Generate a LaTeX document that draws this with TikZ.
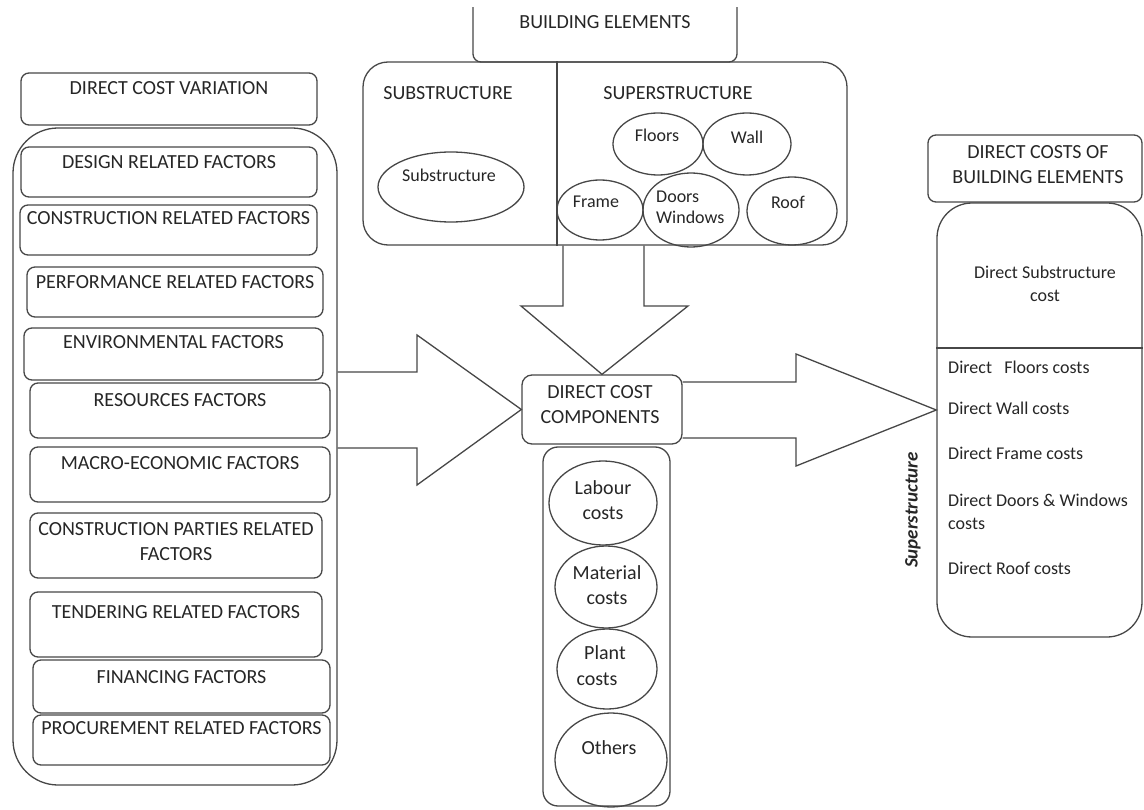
\documentclass[tikz,border=0pt]{standalone}
\usepackage{fontspec}
\setmainfont{Carlito}
\usetikzlibrary{shapes.geometric}
\definecolor{lc}{gray}{0.28}
\definecolor{tc}{gray}{0.15}
\tikzset{
  box/.style={draw=lc, line width=1.3pt, rounded corners=8pt, inner sep=0pt},
  ell/.style={draw=lc, line width=1.3pt, ellipse, inner sep=0pt},
  txt/.style={text=tc, font=\fontsize{20}{25}\selectfont, inner sep=0pt, align=center},
  stxt/.style={text=tc, font=\fontsize{18}{23}\selectfont, inner sep=0pt, align=center},
  etxt/.style={text=tc, font=\fontsize{18}{21}\selectfont, inner sep=0pt, align=center},
  ctxt/.style={text=tc, font=\fontsize{20}{25}\selectfont, inner sep=0pt, align=center},
  barrow/.style={draw=lc, line width=1.3pt, line join=miter},
  sline/.style={draw=lc, line width=1.3pt},
}
\begin{document}
\begin{tikzpicture}[x=1pt,y=-1pt]
\useasboundingbox (0,0) rectangle (1144,810);

% ---------- left column ----------
\node[box, minimum width=296pt, minimum height=52pt] (dhead) at (169,99) {};
\node[txt] (dhead-t) at (169,88) {DIRECT COST VARIATION};

\node[box, rounded corners=45pt, minimum width=324pt, minimum height=657pt] (lcont) at (175,456.5) {};

\node[box, minimum width=296pt, minimum height=50pt] (f1) at (169,172) {};
\node[txt] (f1-t) at (169,162) {DESIGN RELATED FACTORS};
\node[box, minimum width=297pt, minimum height=50pt] (f2) at (168.5,230) {};
\node[txt] (f2-t) at (168.5,218) {CONSTRUCTION RELATED FACTORS};
\node[box, minimum width=296pt, minimum height=50pt] (f3) at (175,292) {};
\node[txt] (f3-t) at (175,282) {PERFORMANCE RELATED FACTORS};
\node[box, minimum width=299pt, minimum height=52pt] (f4) at (173.5,354) {};
\node[txt] (f4-t) at (173.5,342) {ENVIRONMENTAL FACTORS};
\node[box, minimum width=300pt, minimum height=55pt] (f5) at (180,410.5) {};
\node[txt] (f5-t) at (180,400) {RESOURCES FACTORS};
\node[box, minimum width=300pt, minimum height=55pt] (f6) at (180,474.5) {};
\node[txt] (f6-t) at (180,463) {MACRO-ECONOMIC FACTORS};
\node[box, minimum width=292pt, minimum height=65pt] (f7) at (176,545.5) {};
\node[txt] (f7-t) at (176,541.5) {CONSTRUCTION PARTIES RELATED\\FACTORS};
\node[box, minimum width=292pt, minimum height=65pt] (f8) at (176,624.5) {};
\node[txt] (f8-t) at (176,612) {TENDERING RELATED FACTORS};
\node[box, minimum width=297pt, minimum height=53pt] (f9) at (181.5,686.5) {};
\node[txt] (f9-t) at (181.5,677) {FINANCING FACTORS};
\node[box, minimum width=297pt, minimum height=50pt] (f10) at (181.5,740) {};
\node[txt] (f10-t) at (181.5,728) {PROCUREMENT RELATED FACTORS};

% ---------- building elements ----------
\begin{scope}
  \clip (0,8) rectangle (1144,810);
  \node[box, minimum width=264pt, minimum height=72pt] (bhead) at (605,26) {};
\end{scope}
\node[txt] (bhead-t) at (605,22) {BUILDING ELEMENTS};

\node[box, rounded corners=25pt, minimum width=484pt, minimum height=183pt] (bbox) at (605,153.5) {};
\draw[sline] (bbox.north -| 557,0) -- (bbox.south -| 557,0);
\node[txt] (sub-t) at (448,93) {SUBSTRUCTURE};
\node[txt] (sup-t) at (678,93) {SUPERSTRUCTURE};

\node[ell, minimum width=146pt, minimum height=70pt] (esub) at (451,187) {};
\node[etxt] (esub-t) at (449,175) {Substructure};
\node[ell, minimum width=90pt, minimum height=62pt] (efloors) at (658,144) {};
\node[etxt] (efloors-t) at (657,135) {Floors};
\node[ell, minimum width=88pt, minimum height=62pt] (ewall) at (747,144) {};
\node[etxt] (ewall-t) at (747,137) {Wall};
\node[ell, minimum width=86pt, minimum height=60pt] (eframe) at (600,210) {};
\node[etxt] (eframe-t) at (596,202) {Frame};
\node[ell, minimum width=96pt, minimum height=74pt] (edoors) at (691,210) {};
\node[etxt, align=left, anchor=west] (edoors-t) at (656,207.5) {Doors\\Windows};
\node[ell, minimum width=90pt, minimum height=68pt] (eroof) at (792,211) {};
\node[etxt] (eroof-t) at (788,202) {Roof};

% ---------- direct cost components ----------
\node[box, rounded corners=10pt, minimum width=160pt, minimum height=69pt] (dcc) at (602,409.5) {};
\node[txt] (dcc-t) at (600,405) {DIRECT COST\\COMPONENTS};

\node[box, rounded corners=15pt, minimum width=127pt, minimum height=359pt] (ccont) at (606.5,626.5) {};
\node[ell, minimum width=108pt, minimum height=84pt] (elab) at (603,503) {};
\node[ctxt] (elab-t) at (603,500) {Labour\\costs};
\node[ell, minimum width=102pt, minimum height=82pt] (emat) at (606,587) {};
\node[ctxt] (emat-t) at (607,585) {Material\\costs};
\node[ell, minimum width=100pt, minimum height=80pt] (eplant) at (607,669) {};
\node[ctxt] (eplant-t1) at (605,653) {Plant};
\node[ctxt] (eplant-t2) at (597,679) {costs};
\node[ell, minimum width=112pt, minimum height=94pt] (eoth) at (611,760) {};
\node[ctxt] (eoth-t) at (609,748) {Others};

% ---------- right column ----------
\node[box, minimum width=214pt, minimum height=67pt] (rhead) at (1035,168.5) {};
\node[txt] (rhead-t) at (1038,164.5) {DIRECT COSTS OF\\BUILDING ELEMENTS};

\node[box, rounded corners=35pt, minimum width=205pt, minimum height=434pt] (rcont) at (1039.5,420) {};
\draw[sline] (rcont.west |- 0,348) -- (rcont.east |- 0,348);
\node[stxt] (rsub-t) at (1045,284) {Direct Substructure\\cost};
\node[stxt, anchor=west] (r1) at (948,367) {Direct\ \ \ Floors costs};
\node[stxt, anchor=west] (r2) at (948,408) {Direct Wall costs};
\node[stxt, anchor=west] (r3) at (948,453) {Direct Frame costs};
\node[stxt, anchor=west, align=left] (r4) at (948,511.5) {Direct Doors \& Windows\\costs};
\node[stxt, anchor=west] (r5) at (948,568) {Direct Roof costs};
\node[text=tc, font=\fontsize{19}{23}\selectfont\bfseries\itshape, rotate=90, inner sep=0pt] (supv) at (913,510) {Superstructure};

% ---------- block arrows ----------
\draw[barrow] (bbox.south -| 563,0) -- (563,306) -- (521,306) -- (dcc.north)
  -- (688,306) -- (644,306) -- (bbox.south -| 644,0);
\draw[barrow] (lcont.east |- 0,372) -- (417,372) -- (417,335) -- (dcc.west)
  -- (417,485) -- (417,448) -- (lcont.east |- 0,448);
\draw[barrow] (dcc.east |- 0,382) -- (796,382) -- (796,354) -- (rcont.west |- 0,410)
  -- (796,466) -- (796,438) -- (dcc.east |- 0,438);
\end{tikzpicture}
\end{document}
